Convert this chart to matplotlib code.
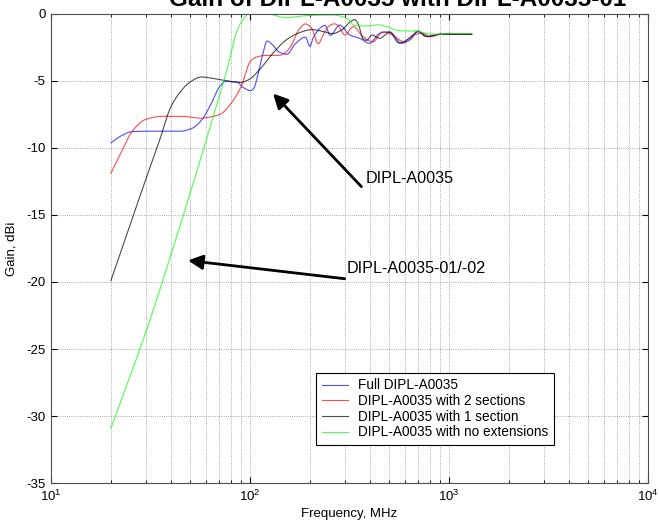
import numpy as np
import matplotlib
matplotlib.use("Agg")
import matplotlib.pyplot as plt

plt.rcParams['font.family'] = ['Liberation Sans', 'DejaVu Sans']
plt.rcParams['axes.unicode_minus'] = False

# Full DIPL-A0035
freq_full = [20, 22.8, 25.5, 29.8, 36, 44.5, 50.9, 57, 63.8, 70.1, 75.8, 81.7, 86, 91.7,
             101, 105, 109, 115, 122, 129, 140, 153, 169, 190, 200, 208, 238, 253, 282,
             317, 356, 399, 448, 503, 576, 635, 699, 785, 898, 1000, 1300]
gain_full = [-9.64, -9.07, -8.8, -8.77, -8.77, -8.77, -8.57, -7.95, -6.72, -5.48, -5.03, -5.1, -5.1, -5.48,
             -5.75, -5.5, -4.7, -3.24, -2.05, -2.3, -2.87, -3.04, -2.25, -1.76, -2.45, -1.76, -0.89, -1.63, -0.86,
             -1.6, -1.85, -2.22, -1.48, -1.36, -2.22, -1.98, -1.36, -1.73, -1.53, -1.55, -1.53]

# DIPL-A0035 with 2 sections
freq_2sec = [20, 22.8, 25.5, 29.8, 36, 45.3, 52, 56, 63.8, 71.7, 80.3, 90, 101, 110, 120, 140, 151,
             163, 175, 190, 204, 220, 233, 246, 265, 275, 300, 330, 370, 415, 465, 520, 590, 660,
             740, 800, 930, 1300]
gain_2sec = [-11.9, -10.2, -8.8, -7.9, -7.66, -7.66, -7.75, -7.8, -7.7, -7.46, -6.7, -5.48, -3.5, -3.2,
             -3.12, -3.12, -2.9, -2.25, -1.26, -0.77, -1.1, -2.25, -1.6, -1.0, -0.77, -0.86, -1.6, -0.98,
             -1.73, -2.1, -1.36, -1.6, -2.1, -1.6, -1.48, -1.73, -1.53, -1.53]

# DIPL-A0035 with 1 section
freq_1sec = [20, 24, 28.6, 34.7, 40, 45.3, 50, 57, 66.2, 77.4, 90, 98.5, 111, 129.6, 151, 175, 204,
             235, 260, 290, 320, 336, 350, 370, 385, 410, 448, 503, 560, 635, 699, 760, 900, 1300]
gain_1sec = [-19.9, -16.5, -13.2, -9.69, -6.96, -5.72, -5.1, -4.73, -4.85, -5.03, -5.13, -4.93, -4.23, -3.0,
             -2.0, -1.46, -1.2, -1.35, -1.5, -1.2, -0.6, -0.45, -0.8, -1.9, -2.0, -1.6, -1.85, -1.4, -2.2,
             -1.85, -1.3, -1.7, -1.55, -1.55]

# DIPL-A0035 with no extensions
freq_none = [20, 30, 40, 50, 63.8, 72, 78.8, 85, 91.7, 99, 120, 150, 197, 257, 311, 334, 392,
             440, 490, 550, 618, 681, 780, 900, 970, 1300]
gain_none = [-30.9, -23.7, -18.0, -13.4, -8.2, -5.6, -3.5, -1.5, -0.5, 0.0, 0.0, -0.3, -0.15, -0.1, -0.4,
             -0.89, -0.93, -0.84, -1.0, -1.26, -1.3, -1.3, -1.5, -1.55, -1.5, -1.5]


def pchip(f, g, n=800):
    # shape-preserving cubic through the read points, on a log frequency axis
    lf = np.log10(f)
    g = np.asarray(g, float)
    h = np.diff(lf)
    d = np.diff(g) / h
    m = np.zeros_like(g)
    for k in range(1, len(g) - 1):
        if d[k - 1] * d[k] > 0:
            w1 = 2 * h[k] + h[k - 1]
            w2 = h[k] + 2 * h[k - 1]
            m[k] = (w1 + w2) / (w1 / d[k - 1] + w2 / d[k])
    m[0], m[-1] = d[0], d[-1]
    xs = np.linspace(lf[0], lf[-1], n)
    idx = np.clip(np.searchsorted(lf, xs) - 1, 0, len(lf) - 2)
    t = (xs - lf[idx]) / h[idx]
    h00 = 2 * t**3 - 3 * t**2 + 1
    h10 = t**3 - 2 * t**2 + t
    h01 = -2 * t**3 + 3 * t**2
    h11 = t**3 - t**2
    ys = h00 * g[idx] + h10 * h[idx] * m[idx] + h01 * g[idx + 1] + h11 * h[idx] * m[idx + 1]
    return 10**xs, ys


fig = plt.figure(figsize=(6.59, 5.24), dpi=100)
ax = fig.add_axes([0.0774, 0.0777, 0.906, 0.8965])

series = [
    (freq_full, gain_full, '#0000ff', 'Full DIPL-A0035'),
    (freq_2sec, gain_2sec, '#ff0000', 'DIPL-A0035 with 2 sections'),
    (freq_1sec, gain_1sec, '#000000', 'DIPL-A0035 with 1 section'),
    (freq_none, gain_none, '#00ff00', 'DIPL-A0035 with no extensions'),
]
for f, g, c, lab in series:
    x, y = pchip(f, g)
    ax.plot(x, y, color=c, lw=0.8, alpha=0.7, label=lab)

ax.set_xscale('log')
ax.set_xlim(10, 1e4)
ax.set_ylim(-35, 0)
ax.set_yticks(np.arange(-35, 1, 5))
ax.grid(True, which='major', ls=':', color='0.55', lw=0.6)
ax.grid(True, which='minor', axis='x', ls=':', color='0.55', lw=0.6)
ax.tick_params(which='both', direction='in', labelsize=9.5, top=True, right=True)
ax.tick_params(which='major', length=4, pad=4)
ax.tick_params(which='minor', length=2)
for s in ax.spines.values():
    s.set_color('0.3')
    s.set_linewidth(0.8)

ax.set_xlabel('Frequency, MHz', fontsize=9.5, labelpad=3)
ax.set_ylabel('Gain, dBi', fontsize=9.5, labelpad=6)

fig.text(0.603, 1 - 6 / 524, 'Gain of DIPL-A0035 with DIPL-A0035-01', ha='center', va='baseline',
         fontsize=17.5, fontweight='bold')

leg = ax.legend(loc='lower left', bbox_to_anchor=(0.4446, 0.0815), borderaxespad=0, fontsize=9.8,
                fancybox=False, edgecolor='k', framealpha=1, handlelength=1.9, handletextpad=0.7,
                labelspacing=0.12, borderpad=0.42)
leg.get_frame().set_linewidth(0.8)

arrow = dict(arrowstyle='-|>', color='k', lw=2, mutation_scale=22, shrinkA=0, shrinkB=0)
ax.annotate('', xy=(130.5, -5.96), xytext=(363, -12.9), arrowprops=arrow)
ax.text(380, -12.3, 'DIPL-A0035', fontsize=11.6, va='center', ha='left')
ax.annotate('', xy=(48.8, -18.4), xytext=(299, -19.76), arrowprops=arrow)
ax.text(306, -19.0, 'DIPL-A0035-01/-02', fontsize=11.6, va='center', ha='left')

fig.savefig('out.png', dpi=100)
